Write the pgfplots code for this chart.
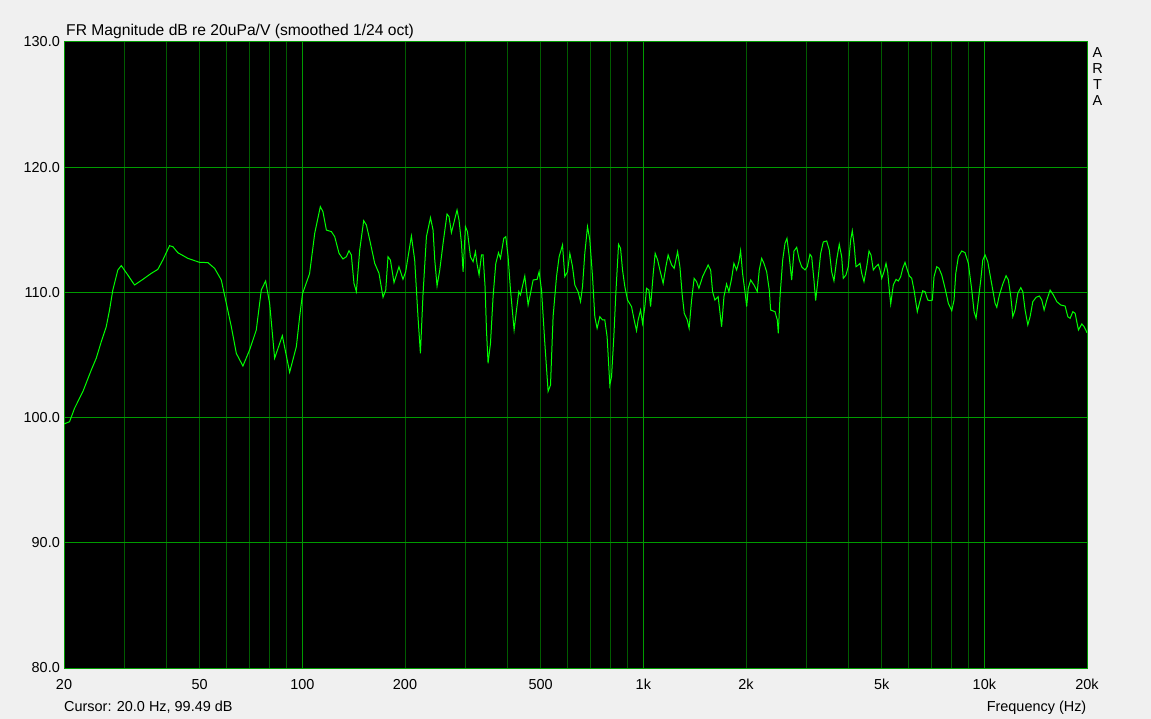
\documentclass[border=0pt]{standalone}
\usepackage{fontspec}
\setmainfont{Liberation Sans}
\usepackage{pgfplots}
\pgfplotsset{compat=1.18}

\definecolor{panel}{HTML}{F0F0F0}
\definecolor{gridminor}{RGB}{0,92,0}
\definecolor{gridmajor}{RGB}{0,155,0}
\definecolor{trace}{RGB}{0,255,0}

\pgfplotstableread{
f      db
20     99.49
20.76  99.67
21.47  100.74
22.71  102.07
24.04  103.80
24.86  104.74
25.72  106.06
26.60  107.26
27.20  108.60
27.81  110.19
28.77  111.79
29.44  112.14
30.77  111.39
32.20  110.59
34.06  111.04
36.05  111.52
37.69  111.84
38.99  112.59
40.79  113.73
41.71  113.65
43.14  113.17
46.16  112.72
49.95  112.40
52.84  112.38
55.29  111.92
57.85  110.99
59.84  109.13
61.89  107.26
64.02  105.13
66.94  104.12
70.03  105.40
73.28  107.00
75.79  110.19
78.03  110.91
80.17  109.13
82.92  104.74
87.35  106.54
91.77  103.62
96.02  105.67
98.19  108.06
100.1  109.90
105.0  111.50
108.7  114.72
112.9  116.85
114.9  116.45
117.6  114.98
121.7  114.85
124.4  114.45
128.1  113.12
131.5  112.67
134.6  112.85
137.0  113.33
139.2  112.99
141.7  110.72
144.0  110.06
147.3  113.39
151.3  115.73
154.1  115.38
157.6  114.19
163.0  112.32
167.8  111.52
172.4  109.61
175.6  110.19
178.3  112.85
181.2  112.59
185.7  110.78
192.0  112.05
197.3  111.05
200.9  111.65
208.8  114.50
213.5  112.59
218.3  108.06
221.9  105.13
225.9  109.90
231.1  114.45
237.5  115.97
241.7  114.98
244.5  112.59
248.3  110.51
252.9  111.79
258.6  113.92
265.6  116.26
269.2  116.05
273.6  114.77
277.9  115.51
284.2  116.58
288.0  115.78
292.8  113.92
296.0  111.65
300.8  115.25
304.9  114.85
311.1  112.85
316.7  112.45
321.8  113.25
325.3  112.27
329.8  111.39
335.2  112.99
338.8  112.99
343.4  110.45
346.7  107.00
350.4  104.34
356.2  105.93
362.5  109.66
369.2  112.32
376.0  113.17
381.1  112.72
389.7  114.32
395.0  114.45
401.2  112.85
407.7  110.19
417.8  107.00
424.6  108.59
431.2  110.06
436.2  109.79
449.0  111.31
459.2  108.99
464.5  109.66
475.0  110.99
488.0  111.04
494.6  111.65
502.7  110.19
514.0  105.96
525.6  102.10
534.2  102.60
543.6  108.06
556.3  111.26
566.2  112.85
579.3  113.79
588.4  111.26
599.2  111.65
608.6  113.12
619.8  112.05
629.5  110.59
643.7  110.06
654.2  109.26
663.1  110.46
673.4  113.12
685.8  115.25
696.6  114.19
709.4  111.26
720.5  108.06
731.8  107.13
745.3  108.06
759.0  107.80
770.9  107.80
783.0  106.46
797.4  102.60
806.6  103.27
819.2  106.46
830.4  109.93
845.7  113.84
857.2  113.52
868.8  111.79
882.4  110.46
898.7  109.39
923.3  108.86
939.6  107.80
955.0  106.94
965.3  107.80
981.2  108.59
994.6  107.53
1010   108.86
1022   110.33
1038   110.19
1050   108.86
1069   111.52
1083   113.12
1101   112.59
1118   111.79
1143   110.72
1164   112.05
1182   112.99
1210   112.19
1231   111.92
1260   113.25
1280   112.05
1300   109.79
1318   108.33
1345   107.80
1362   107.13
1385   109.39
1409   111.12
1432   110.86
1455   110.33
1492   111.26
1515   111.65
1549   112.19
1575   111.79
1596   110.06
1621   109.39
1657   109.66
1696   107.26
1723   109.66
1754   110.67
1782   110.06
1815   111.12
1843   112.32
1877   111.79
1906   112.45
1928   113.33
1954   111.52
1986   110.06
2009   108.86
2030   110.33
2064   110.99
2110   110.59
2158   110.06
2187   111.79
2223   112.72
2257   112.32
2299   111.65
2340   110.19
2362   108.59
2432   108.46
2470   107.80
2487   106.73
2516   109.66
2562   112.59
2602   113.92
2637   114.32
2678   112.85
2722   110.99
2765   113.30
2816   113.60
2866   112.59
2912   112.05
2978   111.79
3024   112.05
3080   113.04
3116   112.85
3164   110.99
3201   109.34
3258   111.26
3311   113.12
3370   114.03
3448   114.11
3509   113.39
3566   111.65
3622   110.91
3689   112.59
3754   113.84
3816   112.85
3857   111.12
3928   111.39
3990   112.05
4055   114.19
4099   114.93
4146   113.92
4203   112.05
4268   112.19
4318   112.32
4368   111.52
4436   110.86
4518   112.05
4589   113.31
4651   112.99
4724   111.79
4801   112.05
4886   112.24
4943   111.79
5000   111.12
5078   111.65
5147   112.32
5206   111.65
5263   110.19
5313   109.07
5407   110.59
5507   111.04
5593   110.91
5684   111.26
5762   111.92
5852   112.40
5943   111.79
6024   111.31
6123   111.12
6219   110.19
6303   109.13
6359   108.46
6446   109.13
6596   110.13
6699   110.06
6822   109.39
6929   109.34
7038   109.39
7119   111.26
7250   112.05
7364   111.92
7499   111.39
7668   110.33
7841   109.13
8023   108.54
8149   109.39
8243   111.52
8389   112.85
8584   113.31
8777   113.17
8975   112.32
9184   110.19
9328   108.46
9455   107.93
9603   109.39
9760   110.99
9893   112.59
10048  112.99
10233  112.45
10393  111.39
10584  110.19
10750  109.13
10874  108.81
11067  109.79
11324  110.67
11579  111.33
11760  110.99
11953  109.66
12115  108.06
12305  108.59
12532  109.93
12788  110.38
12963  110.06
13166  108.59
13408  107.40
13618  108.06
13869  109.26
14182  109.61
14502  109.71
14739  109.39
14970  108.59
15245  109.39
15589  110.19
15940  109.79
16310  109.26
16757  108.99
17251  108.91
17569  108.06
17844  107.93
18173  108.46
18458  108.33
18874  107.00
19312  107.48
19615  107.26
20000  106.78
}\frdata

\begin{document}
\begin{tikzpicture}
\fill[panel] (0,0) rectangle (1151bp,719bp);
\useasboundingbox (0,0) rectangle (1151bp,719bp);
\begin{axis}[
    at={(64bp,51bp)}, anchor=south west,
    scale only axis, width=1023bp, height=626bp,
    xmode=log, xmin=20, xmax=20000, ymin=80, ymax=130,
    axis background/.style={fill=black},
    axis line style={draw=gridmajor, line width=1bp},
    font=\fontsize{14.5}{17}\selectfont,
    /pgf/number format/assume math mode=true,
    xtick={20,50,200,500,2000,5000,20000},
    xticklabels={20,50,200,500,2k,5k,20k},
    extra x ticks={100,1000,10000},
    extra x tick labels={100,1k,10k},
    extra x tick style={grid=major, major grid style={draw=gridmajor, line width=1bp}},
    minor xtick={30,40,60,70,80,90,300,400,600,700,800,900,3000,4000,6000,7000,8000,9000},
    ytick={80,90,100,110,120,130},
    yticklabels={80.0,90.0,100.0,110.0,120.0,130.0},
    xmajorgrids, xminorgrids, ymajorgrids,
    major grid style={draw=gridminor, line width=1bp},
    minor grid style={draw=gridminor, line width=1bp},
    y grid style={draw=gridmajor, line width=1bp},
    major tick length=0pt, minor tick length=0pt,
    tick style={draw=none},
    xticklabel style={anchor=north, inner sep=0pt, yshift=-11bp},
    yticklabel style={anchor=east, inner sep=0pt, xshift=-4bp},
    clip=true,
]
\addplot[trace, line width=1bp] table[x=f, y=db] {\frdata};
\end{axis}
\begin{scope}[font=\fontsize{14.5}{17}\selectfont]
\node[anchor=base west, inner sep=0pt, font=\fontsize{15.7}{18}\selectfont] at (66bp,683.5bp) {FR Magnitude dB re 20uPa/V (smoothed 1/24 oct)};
\node[anchor=base west, inner sep=0pt] at (64bp,8bp) {Cursor: 20.0 Hz, 99.49 dB};
\node[anchor=base east, inner sep=0pt] at (1086.5bp,8bp) {Frequency (Hz)};
\node[anchor=base, inner sep=0pt] at (1097.5bp,661.5bp) {A};
\node[anchor=base, inner sep=0pt] at (1097.5bp,645.5bp) {R};
\node[anchor=base, inner sep=0pt] at (1097.5bp,629.5bp) {T};
\node[anchor=base, inner sep=0pt] at (1097.5bp,613.5bp) {A};
\end{scope}
\end{tikzpicture}
\end{document}
